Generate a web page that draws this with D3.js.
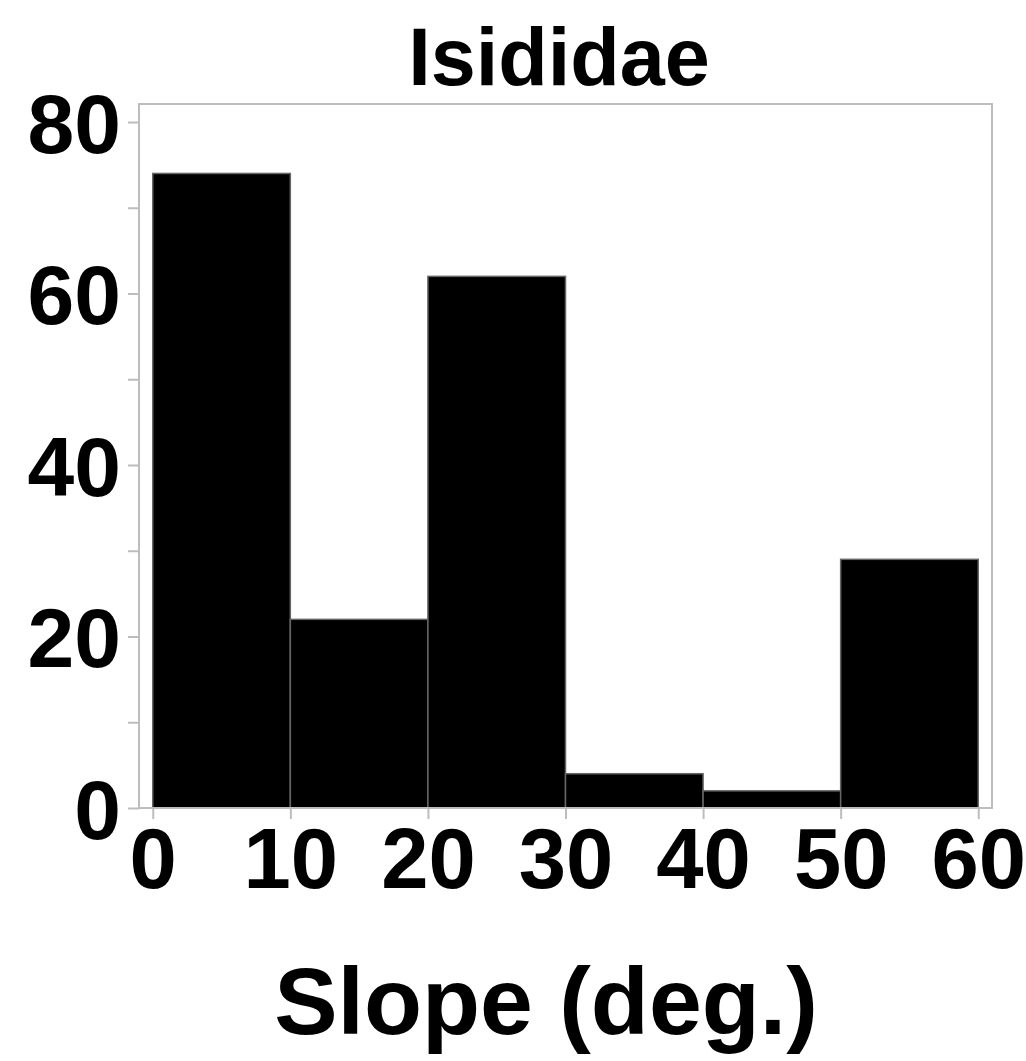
<!DOCTYPE html>
<html>
<head>
<meta charset="utf-8">
<script src="https://cdn.jsdelivr.net/npm/d3@7/dist/d3.min.js"></script>
<style>
  html, body { margin: 0; padding: 0; background: #fff; }
  svg { display: block; }
  text { font-family: "Liberation Sans", Arial, sans-serif; font-weight: bold; fill: #000; }
</style>
</head>
<body>
<script>
// Histogram of slope for Isididae: bins of 10 degrees
const binStarts = [0, 10, 20, 30, 40, 50];
const binWidth = 10;
const counts = [74, 22, 62, 4, 2, 29];
const xTicks = [0, 10, 20, 30, 40, 50, 60];
const yTicks = [0, 10, 20, 30, 40, 50, 60, 70, 80];
const yLabels = [0, 20, 40, 60, 80];
const titleText = "Isididae";
const xTitle = "Slope (deg.)";

const W = 1026, H = 1061;
const plot = { left: 139, right: 992, top: 104, bottom: 808 };

const svg = d3.select("body").append("svg").attr("width", W).attr("height", H);

const x = d3.scaleLinear().domain([-1, 61]).range([plot.left, plot.right]);
const y = d3.scaleLinear().domain([0, 82.1]).range([plot.bottom, plot.top]);

// bars
svg.append("g").selectAll("rect")
  .data(binStarts.map((s, i) => ({ s, c: counts[i] })))
  .join("rect")
  .attr("x", d => x(d.s))
  .attr("width", d => x(d.s + binWidth) - x(d.s))
  .attr("y", d => y(d.c))
  .attr("height", d => y(0) - y(d.c))
  .attr("fill", "#000")
  .attr("stroke", "#666")
  .attr("stroke-width", 1.5);

// frame
svg.append("rect")
  .attr("x", plot.left).attr("y", plot.top)
  .attr("width", plot.right - plot.left).attr("height", plot.bottom - plot.top)
  .attr("fill", "none").attr("stroke", "#bdbdbd").attr("stroke-width", 2);

// y axis ticks and labels
const yAxis = svg.append("g").attr("transform", `translate(${plot.left},0)`)
  .call(d3.axisLeft(y).tickValues(yTicks).tickSize(11)
    .tickFormat(d => yLabels.includes(d) ? d : ""));
yAxis.select(".domain").remove();
yAxis.selectAll(".tick line").attr("stroke", "#bdbdbd").attr("stroke-width", 2);
yAxis.selectAll(".tick text")
  .attr("x", -18).attr("dy", null).attr("y", 30)
  .style("font-size", "84px")
  .attr("fill", "#000");

// x axis ticks and labels
const xAxis = svg.append("g").attr("transform", `translate(0,${plot.bottom})`)
  .call(d3.axisBottom(x).tickValues(xTicks).tickSize(11));
xAxis.select(".domain").remove();
xAxis.selectAll(".tick line").attr("stroke", "#bdbdbd").attr("stroke-width", 2);
xAxis.selectAll(".tick text")
  .attr("dy", null).attr("y", 80)
  .style("font-size", "85px")
  .attr("fill", "#000");

// titles
svg.append("text")
  .attr("x", 559).attr("y", 85)
  .attr("text-anchor", "middle")
  .style("font-size", "81px")
  .text(titleText);

svg.append("text")
  .attr("x", 546).attr("y", 1034)
  .attr("text-anchor", "middle")
  .style("font-size", "95px")
  .text(xTitle);
</script>
</body>
</html>
